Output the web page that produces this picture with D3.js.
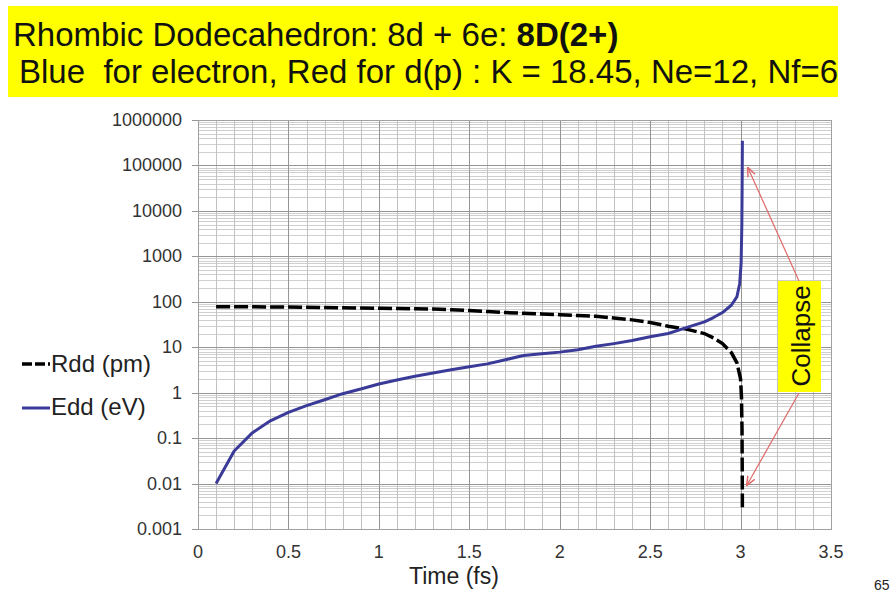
<!DOCTYPE html>
<html>
<head>
<meta charset="utf-8">
<script src="https://cdn.jsdelivr.net/npm/d3@7"></script>
<style>
  body { margin: 0; background: #fff; }
  svg { font-family: "Liberation Sans", Arial, sans-serif; }
</style>
</head>
<body>
<svg id="chart" width="896" height="595"></svg>
<script>
/* Data */
const RDD_TIME = [0.1, 0.2, 0.3, 0.4, 0.5, 0.6, 0.7, 0.8, 0.9, 1.0, 1.1, 1.2, 1.3, 1.4, 1.5, 1.6, 1.7, 1.8, 1.9, 2.0,
                  2.1, 2.2, 2.3, 2.4, 2.5, 2.6, 2.7, 2.8, 2.85, 2.9, 2.95, 2.98, 3.0, 3.005, 3.008, 3.009, 3.01];
const RDD_VALUES = [78, 78, 77.5, 77, 76.5, 76, 75, 74, 73, 72, 71, 70, 69, 67, 64, 61, 58, 56, 54, 52,
                    50, 48, 44, 40, 35, 29, 25, 20, 16, 12, 7.5, 4.5, 2, 0.8, 0.15, 0.027, 0.003];
const EDD_TIME = [0.1, 0.2, 0.3, 0.4, 0.5, 0.6, 0.7, 0.8, 0.9, 1.0, 1.1, 1.2, 1.3, 1.4, 1.5, 1.6, 1.7, 1.8, 1.9, 2.0,
                  2.1, 2.2, 2.3, 2.4, 2.5, 2.6, 2.7, 2.8, 2.85, 2.9, 2.95, 2.98, 2.995, 3.003, 3.007, 3.009, 3.01];
const EDD_VALUES = [0.01, 0.052, 0.13, 0.24, 0.37, 0.52, 0.7, 0.95, 1.2, 1.55, 1.9, 2.3, 2.7, 3.2, 3.7, 4.3, 5.3, 6.6, 7.2, 7.8,
                    8.8, 10.5, 12, 14, 17, 20, 27, 36, 45, 58, 85, 130, 250, 700, 5000, 60000, 350000];
const X_TICKS = [0, 0.5, 1, 1.5, 2, 2.5, 3, 3.5];
const Y_TICKS = [0.001, 0.01, 0.1, 1, 10, 100, 1000, 10000, 100000, 1000000];
const SERIES_NAMES = ['Rdd (pm)', 'Edd (eV)'];

/* Layout */
const LEFT = 198, RIGHT = 831, TOP = 120, BOTTOM = 529;
const BLUE = '#3a3a98';

const svg = d3.select('#chart');

const x = d3.scaleLinear().domain([0, 3.5]).range([LEFT, RIGHT]);
const y = d3.scaleLog().domain([0.001, 1000000]).range([BOTTOM, TOP]);

/* Grid */
const grid = svg.append('g');
const minorY = [];
for (let e = -3; e < 6; e++) {
    for (let m = 2; m <= 9; m++) minorY.push(m * Math.pow(10, e));
}
grid.selectAll('.hminor').data(minorY).enter().append('line')
    .attr('x1', LEFT).attr('x2', RIGHT)
    .attr('y1', d => Math.round(y(d)) + 0.5).attr('y2', d => Math.round(y(d)) + 0.5)
    .attr('stroke', '#cfcfcf').attr('stroke-width', 1);

const xMinor = d3.range(1, 35).map(i => i / 10);
grid.selectAll('.vminor').data(xMinor).enter().append('line')
    .attr('x1', d => Math.round(x(d)) + 0.5).attr('x2', d => Math.round(x(d)) + 0.5)
    .attr('y1', TOP).attr('y2', BOTTOM)
    .attr('stroke', d => (Math.abs(d * 2 - Math.round(d * 2)) < 1e-6) ? '#959595' : '#c2c2c2')
    .attr('stroke-width', 1);

grid.selectAll('.hmajor').data(Y_TICKS).enter().append('line')
    .attr('x1', LEFT - 6).attr('x2', RIGHT)
    .attr('y1', d => Math.round(y(d)) + 0.5).attr('y2', d => Math.round(y(d)) + 0.5)
    .attr('stroke', '#959595').attr('stroke-width', 1);

grid.append('rect')
    .attr('x', LEFT + 0.5).attr('y', TOP + 0.5)
    .attr('width', RIGHT - LEFT).attr('height', BOTTOM - TOP)
    .attr('fill', 'none').attr('stroke', '#a0a0a0');

/* Axes labels */
svg.append('g').selectAll('text').data(Y_TICKS).enter().append('text')
    .attr('x', LEFT - 16).attr('y', d => y(d) + 6)
    .attr('text-anchor', 'end')
    .attr('font-size', 18).attr('fill', '#333')
    .text(d => d3.format('~f')(d));

svg.append('g').selectAll('text').data(X_TICKS).enter().append('text')
    .attr('x', d => x(d)).attr('y', BOTTOM + 29)
    .attr('text-anchor', 'middle')
    .attr('font-size', 18).attr('fill', '#333')
    .text(d => d);

svg.append('text')
    .attr('x', 454).attr('y', 584)
    .attr('text-anchor', 'middle')
    .attr('font-size', 23).attr('fill', '#222')
    .text('Time (fs)');

/* Lines */
svg.append('path')
    .datum(RDD_TIME.map((t, i) => [t, RDD_VALUES[i]]))
    .attr('d', d3.line().x(d => x(d[0])).y(d => y(d[1])))
    .attr('fill', 'none').attr('stroke', '#000')
    .attr('stroke-width', 3.5).attr('stroke-dasharray', '14,4');

svg.append('path')
    .datum(EDD_TIME.map((t, i) => [t, EDD_VALUES[i]]))
    .attr('d', d3.line().x(d => x(d[0])).y(d => y(d[1])))
    .attr('fill', 'none').attr('stroke', BLUE)
    .attr('stroke-width', 3).attr('stroke-linejoin', 'round');

/* Legend */
const legend = svg.append('g');
legend.append('line').attr('x1', 22).attr('x2', 50).attr('y1', 364).attr('y2', 364)
    .attr('stroke', '#000').attr('stroke-width', 3.5).attr('stroke-dasharray', '10,3');
legend.append('line').attr('x1', 22).attr('x2', 50).attr('y1', 408).attr('y2', 408)
    .attr('stroke', BLUE).attr('stroke-width', 3);
legend.selectAll('text').data(SERIES_NAMES).enter().append('text')
    .attr('x', 51).attr('y', (d, i) => 372 + i * 43)
    .attr('font-size', 24).attr('fill', '#222')
    .text(d => d);

/* Collapse annotation */
const defs = svg.append('defs');
defs.append('marker').attr('id', 'arrow')
    .attr('viewBox', '0 0 10 10').attr('refX', 9).attr('refY', 5)
    .attr('markerWidth', 8).attr('markerHeight', 8).attr('orient', 'auto')
    .append('path').attr('d', 'M0,1 L10,5 L0,9').attr('fill', 'none').attr('stroke', '#e06a6a').attr('stroke-width', 1.5);

svg.append('line').attr('x1', 799).attr('y1', 281).attr('x2', 748).attr('y2', 168)
    .attr('stroke', '#e06a6a').attr('stroke-width', 1.2).attr('marker-end', 'url(#arrow)');
svg.append('line').attr('x1', 799).attr('y1', 393).attr('x2', 747).attr('y2', 485)
    .attr('stroke', '#e06a6a').attr('stroke-width', 1.2).attr('marker-end', 'url(#arrow)');

svg.append('rect').attr('x', 778).attr('y', 281).attr('width', 43).attr('height', 111)
    .attr('fill', '#ffff00');
svg.append('text')
    .attr('transform', 'translate(810,336) rotate(-90)')
    .attr('text-anchor', 'middle')
    .attr('font-size', 26).attr('fill', '#111')
    .text('Collapse');

/* Title box */
svg.append('rect').attr('x', 8).attr('y', 6).attr('width', 830).attr('height', 91)
    .attr('fill', '#ffff00');
const t1 = svg.append('text').attr('x', 13).attr('y', 46).attr('font-size', 33).attr('fill', '#111');
t1.append('tspan').text('Rhombic Dodecahedron: 8d + 6e: ');
t1.append('tspan').attr('font-weight', 'bold').text('8D(2+)');
svg.append('text').attr('x', 19).attr('y', 83).attr('font-size', 33).attr('fill', '#111')
    .text('Blue  for electron, Red for d(p) : K = 18.45, Ne=12, Nf=6')
    .style('white-space', 'pre');

svg.append('text').attr('x', 874).attr('y', 590).attr('font-size', 14).attr('fill', '#222').text('65');
</script>
</body>
</html>
